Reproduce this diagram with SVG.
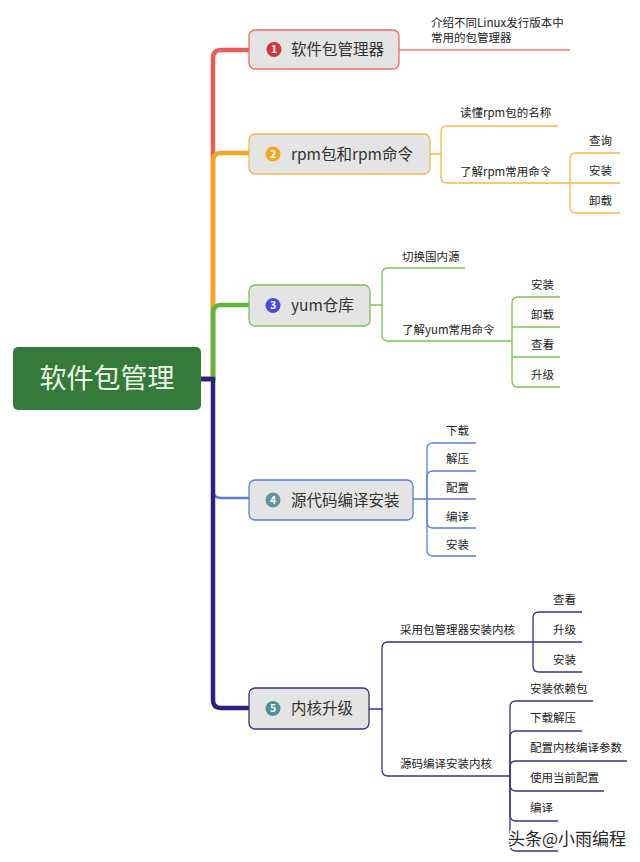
<svg xmlns="http://www.w3.org/2000/svg" width="640" height="862" viewBox="0 0 640 862">
<style>
text{font-family:"Noto Sans CJK SC","Noto Sans",sans-serif}
.t{font-size:15.5px;fill:#333}
.s{font-size:11.5px;fill:#222}
.b{font-size:10.5px;font-weight:bold;fill:#fff;text-anchor:middle}
.n{fill:#e4e4e4;stroke-width:1.3}
.l{fill:none;stroke-width:1.3}
.tr{fill:none;stroke-linecap:butt}
</style>
<rect width="640" height="862" fill="#fff"/>
<g id="connectors">
  <g id="trunk">
    <path class="tr" d="M200,379 H213 V58 Q213,50 221,50 H249" stroke="#ee5a55" stroke-width="4.5"/>
    <path class="tr" d="M200,379 H213 V161 Q213,153 221,153 H249" stroke="#f5a623" stroke-width="4.5"/>
    <path class="tr" d="M200,379 H213 V313 Q213,305 221,305 H249" stroke="#5fb83e" stroke-width="4.5"/>
    <path class="tr" d="M200,379 H213 V490 Q213,498 221,498 H249" stroke="#5b7fd6" stroke-width="2.5"/>
    <path class="tr" d="M200,379 H213 V700 Q213,708 221,708 H249" stroke="#2b1f80" stroke-width="4.5"/>
  </g>
  <g id="c1" stroke="#ef7b76">
    <path class="l" d="M399,50 H570"/>
  </g>
  <g id="c2" stroke="#f5b84a">
    <path class="l" d="M430,154 H441 V132 Q441,126 447,126 H558"/>
    <path class="l" d="M441,154 V177 Q441,183 447,183 H620"/>
    <path class="l" d="M570,183 V159 Q570,153 576,153 H620"/>
    <path class="l" d="M570,183 V207 Q570,213 576,213 H620"/>
  </g>
  <g id="c3" stroke="#7cc25a">
    <path class="l" d="M370,305 H382 V274 Q382,268 388,268 H465"/>
    <path class="l" d="M382,305 V335 Q382,341 388,341 H512"/>
    <path class="l" d="M512,341 V303 Q512,297 518,297 H560"/>
    <path class="l" d="M512,327 H560"/>
    <path class="l" d="M512,357 H560"/>
    <path class="l" d="M512,341 V381 Q512,387 518,387 H560"/>
  </g>
  <g id="c4" stroke="#5b7fd6">
    <path class="l" d="M413,499 H476"/>
    <path class="l" d="M427,499 V449 Q427,443 433,443 H476"/>
    <path class="l" d="M427,499 V477 Q427,471 433,471 H476"/>
    <path class="l" d="M427,499 V522 Q427,528 433,528 H476"/>
    <path class="l" d="M427,499 V550 Q427,556 433,556 H476"/>
  </g>
  <g id="c5" stroke="#3e2f86">
    <path class="l" d="M369,709 H382 V648 Q382,642 388,642 H582"/>
    <path class="l" d="M382,709 V770 Q382,776 388,776 H510"/>
    <path class="l" d="M533,642 V618 Q533,612 539,612 H582"/>
    <path class="l" d="M533,642 V666 Q533,672 539,672 H582"/>
    <path class="l" d="M510,776 V707 Q510,701 516,701 H593"/>
    <path class="l" d="M510,776 V737 Q510,731 516,731 H582"/>
    <path class="l" d="M510,776 V767 Q510,761 516,761 H627"/>
    <path class="l" d="M510,776 V785 Q510,791 516,791 H604"/>
    <path class="l" d="M510,776 V815 Q510,821 516,821 H558"/>
    <path class="l" d="M510,776 V845 Q510,851 516,851 H558"/>
  </g>
</g>
<g id="root">
  <rect x="13" y="347" width="188" height="63" rx="5" fill="#357a3b"/>
  <text x="107" y="388" font-size="27" fill="#eaf6e4" text-anchor="middle">软件包管理</text>
</g>
<g id="n1">
  <rect class="n" x="249" y="30" width="150" height="39" rx="6" stroke="#ee6a66"/>
  <circle cx="274" cy="49.5" r="7.5" fill="#d6333b"/>
  <text class="b" x="274" y="53.3">1</text>
  <text class="t" x="291" y="55">软件包管理器</text>
</g>
<g id="n2">
  <rect class="n" x="249" y="134" width="181" height="40" rx="6" stroke="#f5b84a"/>
  <circle cx="273" cy="154" r="7.5" fill="#f5a623"/>
  <text class="b" x="273" y="157.8">2</text>
  <text class="t" x="291" y="159.5">rpm包和rpm命令</text>
</g>
<g id="n3">
  <rect class="n" x="249" y="285" width="121" height="41" rx="6" stroke="#7cc25a"/>
  <circle cx="273" cy="305.5" r="7.5" fill="#4848e6"/>
  <text class="b" x="273" y="309.3">3</text>
  <text class="t" x="291" y="311">yum仓库</text>
</g>
<g id="n4">
  <rect class="n" x="249" y="480" width="164" height="40" rx="6" stroke="#5b7fd6"/>
  <circle cx="273" cy="500" r="7.5" fill="#5f959c"/>
  <text class="b" x="273" y="503.8">4</text>
  <text class="t" x="291" y="505.5">源代码编译安装</text>
</g>
<g id="n5">
  <rect class="n" x="249" y="688" width="120" height="41" rx="6" stroke="#3e2f86"/>
  <circle cx="273" cy="708.5" r="7.5" fill="#51909a"/>
  <text class="b" x="273" y="712.3">5</text>
  <text class="t" x="291" y="714">内核升级</text>
</g>
<g id="s1">
  <text class="s" x="431" y="27">介绍不同Linux发行版本中</text>
  <text class="s" x="431" y="42">常用的包管理器</text>
</g>
<g id="s2">
  <text class="s" x="460" y="117">读懂rpm包的名称</text>
  <text class="s" x="460" y="176">了解rpm常用命令</text>
  <text class="s" x="589" y="145">查询</text>
  <text class="s" x="589" y="175">安装</text>
  <text class="s" x="589" y="205">卸载</text>
</g>
<g id="s3">
  <text class="s" x="402" y="261">切换国内源</text>
  <text class="s" x="402" y="334">了解yum常用命令</text>
  <text class="s" x="531" y="289">安装</text>
  <text class="s" x="531" y="319">卸载</text>
  <text class="s" x="531" y="349">查看</text>
  <text class="s" x="531" y="379">升级</text>
</g>
<g id="s4">
  <text class="s" x="446" y="435">下载</text>
  <text class="s" x="446" y="463">解压</text>
  <text class="s" x="446" y="492">配置</text>
  <text class="s" x="446" y="521">编译</text>
  <text class="s" x="446" y="549">安装</text>
</g>
<g id="s5">
  <text class="s" x="400" y="634">采用包管理器安装内核</text>
  <text class="s" x="553" y="604">查看</text>
  <text class="s" x="553" y="634">升级</text>
  <text class="s" x="553" y="664">安装</text>
  <text class="s" x="400" y="768">源码编译安装内核</text>
  <text class="s" x="530" y="693">安装依赖包</text>
  <text class="s" x="530" y="722">下载解压</text>
  <text class="s" x="530" y="752">配置内核编译参数</text>
  <text class="s" x="530" y="782">使用当前配置</text>
  <text class="s" x="530" y="812">编译</text>
</g>
<g id="watermark">
  <text x="508" y="845" font-size="17" fill="#2a2a2a" stroke="#fff" stroke-width="3" paint-order="stroke" stroke-linejoin="round">头条@小雨编程</text>
</g>
</svg>
